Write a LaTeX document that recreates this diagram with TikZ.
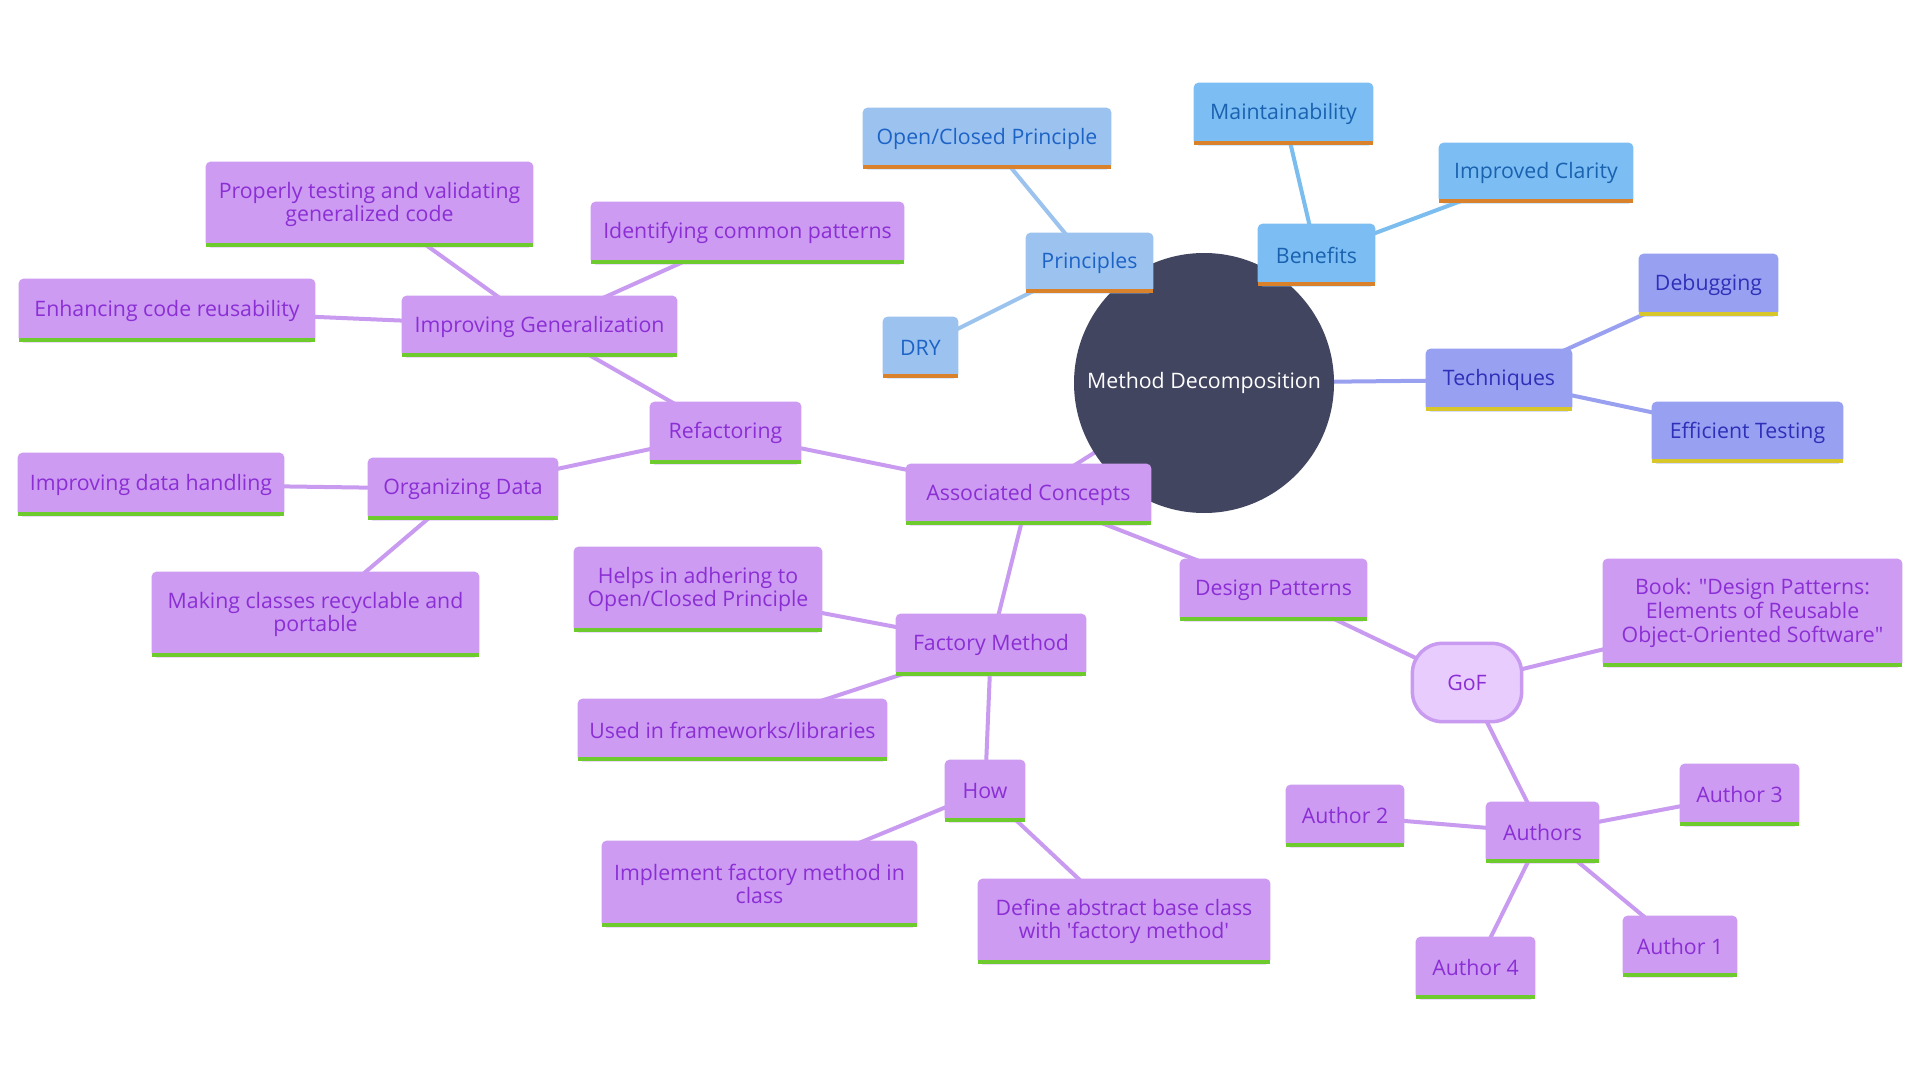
\documentclass[tikz,border=0pt]{standalone}
\usepackage{fontspec}
\setmainfont{Open Sans}
\usetikzlibrary{calc}
\pgfdeclarelayer{bgl}\pgfdeclarelayer{edges}\pgfdeclarelayer{rootl}\pgfdeclarelayer{boxes}
\pgfsetlayers{bgl,edges,rootl,boxes,main}
\definecolor{rootc}{HTML}{424560}
\definecolor{bAfill}{HTML}{9CC3F0}
\definecolor{bAtxt}{HTML}{1D63C6}
\definecolor{bBfill}{HTML}{7CBEF3}
\definecolor{bBtxt}{HTML}{1A62B0}
\definecolor{vfill}{HTML}{98A0F2}
\definecolor{vtxt}{HTML}{2E30B8}
\definecolor{pfill}{HTML}{CD9BF2}
\definecolor{ptxt}{HTML}{8B2FD5}
\definecolor{barOrange}{HTML}{D9822B}
\definecolor{barYellow}{HTML}{D8C72B}
\definecolor{barGreen}{HTML}{6DCB2E}
\definecolor{goffill}{HTML}{E9CCFE}
\definecolor{eA}{HTML}{9CC3EE}
\definecolor{eB}{HTML}{7ABDEE}
\definecolor{eV}{HTML}{99A0F0}
\definecolor{eP}{HTML}{C99BF0}
\tikzset{
  tbA/.style={text=bAtxt},
  tbB/.style={text=bBtxt},
  tbV/.style={text=vtxt},
  tpp/.style={text=ptxt},
  edgeA/.style={draw=eA,line width=2pt},
  edgeB/.style={draw=eB,line width=2pt},
  edgeV/.style={draw=eV,line width=2pt},
  edgeP/.style={draw=eP,line width=2pt},
}
% name, x1, y1, x2, y2, style, text
\newcommand\mmnode[7]{%
  \node[#6, minimum width={(#4-#2)*0.5pt}, minimum height={(#5-#3)*0.5pt}] (#1) at ({(#2+#4)/2},{(#3+#5)/2}) {#7};}
% name, fill, bar
\newcommand\mmbox[3]{%
  \begin{pgfonlayer}{boxes}
  \fill[fill=#2, rounded corners=2.5pt] (#1.south west) rectangle (#1.north east);
  \fill[fill=#2] (#1.south west) rectangle (#1.east);
  \fill[fill=#3] (#1.south west) rectangle ([yshift=2.1pt]#1.south east);
  \end{pgfonlayer}}
\begin{document}
\begin{tikzpicture}[x=0.5pt,y=-0.5pt,
  every node/.style={inner sep=0pt, align=center, font=\fontsize{10.65}{11.8}\selectfont}]
\begin{pgfonlayer}{bgl}
\fill[white] (0,0) rectangle (1920,1080);
\end{pgfonlayer}
\useasboundingbox (0,0) rectangle (1920,1080);

\node[circle, minimum size=130pt, text=white] (root) at (1204,383) {Method Decomposition};
\begin{pgfonlayer}{rootl}
\fill[rootc] (root.center) circle (65pt);
\end{pgfonlayer}

\mmnode{prin}{1026}{233}{1153}{293}{tbA}{Principles}
\mmnode{ocp}{863}{108}{1111}{169}{tbA}{Open/Closed Principle}
\mmnode{dry}{883}{317}{958}{378}{tbA}{DRY}
\mmnode{ben}{1258}{224}{1375}{286}{tbB}{Benefits}
\mmnode{mai}{1194}{83}{1373}{145}{tbB}{Maintainability}
\mmnode{imc}{1439}{143}{1633}{203}{tbB}{Improved Clarity}
\mmnode{tec}{1426}{349}{1572}{411}{tbV}{Techniques}
\mmnode{deb}{1639}{254}{1778}{316}{tbV}{Debugging}
\mmnode{eft}{1652}{402}{1843}{463}{tbV}{Efficient Testing}
\mmnode{ac}{906}{464}{1151}{525}{tpp}{Associated Concepts}
\mmnode{ref}{650}{402}{801}{464}{tpp}{Refactoring}
\mmnode{ig}{402}{296}{677}{357}{tpp}{Improving Generalization}
\mmnode{pt}{206}{162}{533}{247}{tpp}{Properly testing and validating\\generalized code}
\mmnode{icp}{591}{202}{904}{264}{tpp}{Identifying common patterns}
\mmnode{ecr}{19}{279}{315}{342}{tpp}{Enhancing code reusability}
\mmnode{od}{368}{458}{558}{520}{tpp}{Organizing Data}
\mmnode{idh}{18}{453}{284}{516}{tpp}{Improving data handling}
\mmnode{mcr}{152}{572}{479}{657}{tpp}{Making classes recyclable and\\portable}
\mmnode{fm}{896}{614}{1086}{676}{tpp}{Factory Method}
\mmnode{hel}{574}{547}{822}{632}{tpp}{Helps in adhering to\\Open/Closed Principle}
\mmnode{uif}{578}{699}{887}{761}{tpp}{Used in frameworks/libraries}
\mmnode{how}{945}{760}{1025}{822}{tpp}{How}
\mmnode{imp}{602}{841}{917}{927}{tpp}{Implement factory method in\\class}
\mmnode{dab}{978}{879}{1270}{964}{tpp}{Define abstract base class\\with \textquotesingle factory method\textquotesingle}
\mmnode{dp}{1180}{559}{1367}{621}{tpp}{Design Patterns}
\mmnode{gof}{1411}{642}{1523}{723}{tpp}{GoF}
\mmnode{book}{1603}{559}{1902}{667}{tpp}{Book: \textquotedbl Design Patterns:\\Elements of Reusable\\Object-Oriented Software\textquotedbl}
\mmnode{aut}{1486}{802}{1599}{863}{tpp}{Authors}
\mmnode{atwo}{1286}{785}{1404}{847}{tpp}{Author 2}
\mmnode{athree}{1680}{764}{1799}{826}{tpp}{Author 3}
\mmnode{aone}{1623}{916}{1737}{977}{tpp}{Author 1}
\mmnode{afour}{1416}{937}{1535}{999}{tpp}{Author 4}

\foreach \n in {prin,ocp,dry}{\mmbox{\n}{bAfill}{barOrange}}
\foreach \n in {ben,mai,imc}{\mmbox{\n}{bBfill}{barOrange}}
\foreach \n in {tec,deb,eft}{\mmbox{\n}{vfill}{barYellow}}
\foreach \n in {ac,ref,ig,pt,icp,ecr,od,idh,mcr,fm,hel,uif,how,imp,dab,dp,book,aut,atwo,athree,aone,afour}{\mmbox{\n}{pfill}{barGreen}}
\begin{pgfonlayer}{boxes}
\filldraw[fill=goffill, draw=eP, line width=1.75pt, rounded corners=15pt]
  ([shift={(0.875pt,-0.875pt)}]gof.north west) rectangle ([shift={(-0.875pt,0.875pt)}]gof.south east);
\end{pgfonlayer}

\begin{pgfonlayer}{edges}
\draw[edgeA] (root.center) -- (prin.center);
\draw[edgeA] (prin.center) -- (ocp.center);
\draw[edgeA] (prin.center) -- (dry.center);
\draw[edgeB] (root.center) -- (ben.center);
\draw[edgeB] (ben.center) -- (mai.center);
\draw[edgeB] (ben.center) -- (imc.center);
\draw[edgeV] (root.center) -- (tec.center);
\draw[edgeV] (tec.center) -- (deb.center);
\draw[edgeV] (tec.center) -- (eft.center);
\draw[edgeP] (root.center) -- (ac.center);
\draw[edgeP] (ac.center) -- (ref.center);
\draw[edgeP] (ref.center) -- (ig.center);
\draw[edgeP] (ig.center) -- (pt.center);
\draw[edgeP] (ig.center) -- (icp.center);
\draw[edgeP] (ig.center) -- (ecr.center);
\draw[edgeP] (ref.center) -- (od.center);
\draw[edgeP] (od.center) -- (idh.center);
\draw[edgeP] (od.center) -- (mcr.center);
\draw[edgeP] (ac.center) -- (fm.center);
\draw[edgeP] (fm.center) -- (hel.center);
\draw[edgeP] (fm.center) -- (uif.center);
\draw[edgeP] (fm.center) -- (how.center);
\draw[edgeP] (how.center) -- (imp.center);
\draw[edgeP] (how.center) -- (dab.center);
\draw[edgeP] (ac.center) -- (dp.center);
\draw[edgeP] (dp.center) -- (gof.center);
\draw[edgeP] (gof.center) -- (book.center);
\draw[edgeP] (gof.center) -- (aut.center);
\draw[edgeP] (aut.center) -- (atwo.center);
\draw[edgeP] (aut.center) -- (athree.center);
\draw[edgeP] (aut.center) -- (aone.center);
\draw[edgeP] (aut.center) -- (afour.center);
\end{pgfonlayer}
\end{tikzpicture}
\end{document}
